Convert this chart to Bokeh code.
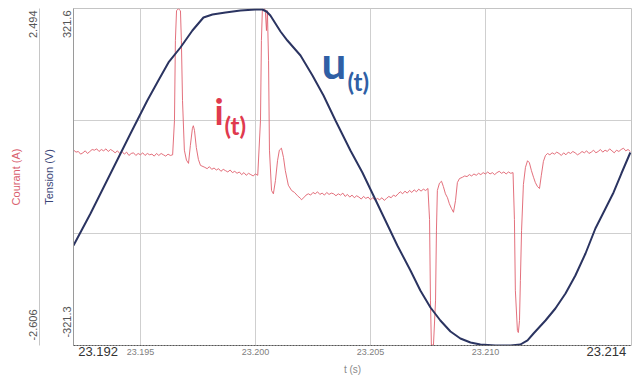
from bokeh.plotting import figure
from bokeh.models import Range1d, LinearAxis, FixedTicker, Grid, Label
from bokeh.embed import file_html
from bokeh.resources import INLINE

# ---------------- data ----------------
t_start, t_end = 23.19209, 23.21635          # visible time window (s)
v_lo, v_hi = -321.3, 321.6                    # Tension axis (V)
i_lo, i_hi = -2.606, 2.494                    # Courant axis (A)

x_ticks = [23.195, 23.200, 23.205, 23.210]
x_tick_labels = ["23.195", "23.200", "23.205", "23.210"]
end_labels = ["23.192", "23.214"]
v_labels = ["321.6", "-321.3"]
i_labels = ["2.494", "-2.606"]

# u(t) : voltage samples
t_u = [23.19209, 23.19283, 23.19370, 23.19457, 23.19530, 23.19578, 23.19622, 23.19674,
       23.19726, 23.19774, 23.19813, 23.19870, 23.19935, 23.20000, 23.20030, 23.20048,
       23.20065, 23.20087, 23.20109, 23.20139, 23.20196, 23.20248, 23.20296, 23.20348,
       23.20413, 23.20465, 23.20513, 23.20565, 23.20617, 23.20674, 23.20717, 23.20761,
       23.20804, 23.20848, 23.20891, 23.20935, 23.20978, 23.21043, 23.21109, 23.21152,
       23.21183, 23.21209, 23.21261, 23.21304, 23.21348, 23.21391, 23.21435, 23.21478,
       23.21522, 23.21557, 23.21591, 23.21630]
u_vals = [-130.5, -69.5, 6.8, 83.1, 146.1, 184.2, 218.6, 247.2,
          279.6, 304.4, 310.2, 314.0, 317.8, 319.7, 319.7, 315.9,
          308.2, 293.0, 277.7, 260.5, 231.9, 193.8, 155.6, 107.9,
          50.7, 8.7, -35.1, -82.8, -130.5, -178.2, -216.4, -248.8,
          -273.6, -294.6, -308.0, -315.6, -319.4, -321.3, -321.3, -319.4,
          -311.7, -298.4, -273.6, -250.7, -222.1, -187.8, -145.8, -98.1,
          -59.9, -29.4, 6.8, 46.9]

# i(t) : current samples, segment by segment
seg_a_t = [23.1921, 23.1922, 23.1923, 23.1924, 23.1925, 23.1926, 23.1927, 23.1928, 23.1929, 23.1930,
           23.1931, 23.1932, 23.1933, 23.1934, 23.1935, 23.1936, 23.1937, 23.1938, 23.1939, 23.1940,
           23.1941, 23.1942, 23.1943, 23.1944, 23.1945, 23.1946, 23.1947, 23.1948, 23.1949, 23.1950,
           23.1951, 23.1952, 23.1953, 23.1954, 23.1955, 23.1956, 23.1957, 23.1958, 23.1959, 23.1960,
           23.1961, 23.1962, 23.1963, 23.1964]
seg_a_i = [0.35, 0.32, 0.33, 0.29, 0.31, 0.34, 0.30, 0.33, 0.36, 0.35,
           0.37, 0.33, 0.36, 0.34, 0.37, 0.33, 0.36, 0.34, 0.31, 0.34,
           0.30, 0.33, 0.29, 0.32, 0.27, 0.30, 0.31, 0.27, 0.30, 0.28,
           0.31, 0.27, 0.30, 0.28, 0.29, 0.26, 0.30, 0.27, 0.30, 0.28,
           0.26, 0.29, 0.27, 0.28]
spk1_t = [23.19648, 23.19652, 23.19657, 23.19665, 23.19674, 23.19678, 23.19683, 23.19691, 23.19700,
          23.19709, 23.19717, 23.19726, 23.19730, 23.19735, 23.19743, 23.19752, 23.19761]
spk1_i = [0.80, 2.01, 2.46, 2.49, 2.46, 2.01, 1.10, 0.35, 0.20,
          0.15, 0.42, 0.68, 0.72, 0.65, 0.39, 0.21, 0.12]
seg_b_t = [23.1978, 23.1979, 23.1980, 23.1981, 23.1982, 23.1983, 23.1984, 23.1985, 23.1986, 23.1987,
           23.1988, 23.1989, 23.1990, 23.1991, 23.1992, 23.1993, 23.1994, 23.1995, 23.1996, 23.1997,
           23.1998, 23.1999, 23.2000, 23.2001]
seg_b_i = [0.09, 0.07, 0.10, 0.06, 0.08, 0.05, 0.07, 0.03, 0.06, 0.04,
           0.02, 0.05, 0.01, 0.03, 0.00, 0.02, -0.02, 0.01, -0.03, 0.00,
           -0.02, -0.04, -0.01, -0.03]
spk2_t = [23.20022, 23.20026, 23.20030, 23.20039, 23.20043, 23.20048, 23.20052, 23.20057, 23.20061,
          23.20070, 23.20078, 23.20087, 23.20096, 23.20104, 23.20113, 23.20122, 23.20130, 23.20143,
          23.20157, 23.20170, 23.20183, 23.20196]
spk2_i = [0.80, 2.01, 2.46, 2.49, 2.46, 2.16, 2.46, 1.71, 0.35,
          -0.26, -0.31, -0.11, 0.19, 0.35, 0.38, 0.24, 0.04, -0.18,
          -0.26, -0.29, -0.34, -0.38]
seg_c_t = [23.2020, 23.2021, 23.2022, 23.2023, 23.2024, 23.2025, 23.2026, 23.2027, 23.2028, 23.2029,
           23.2030, 23.2031, 23.2032, 23.2033, 23.2034, 23.2035, 23.2036, 23.2037, 23.2038, 23.2039,
           23.2040, 23.2041, 23.2042, 23.2043, 23.2044, 23.2045, 23.2046, 23.2047, 23.2048, 23.2049,
           23.2050, 23.2051, 23.2052, 23.2053, 23.2054, 23.2055, 23.2056, 23.2057, 23.2058, 23.2059,
           23.2060, 23.2061, 23.2062, 23.2063, 23.2064, 23.2065, 23.2066, 23.2067, 23.2068, 23.2069,
           23.2070, 23.2071, 23.2072, 23.2073, 23.2074, 23.2075]
seg_c_i = [-0.40, -0.37, -0.33, -0.31, -0.33, -0.29, -0.31, -0.28, -0.32, -0.30,
           -0.33, -0.29, -0.32, -0.30, -0.31, -0.34, -0.31, -0.33, -0.30, -0.35,
           -0.32, -0.36, -0.33, -0.37, -0.34, -0.36, -0.39, -0.35, -0.38, -0.36,
           -0.40, -0.37, -0.41, -0.38, -0.40, -0.37, -0.41, -0.38, -0.35, -0.37,
           -0.33, -0.35, -0.31, -0.28, -0.31, -0.27, -0.30, -0.26, -0.29, -0.25,
           -0.28, -0.24, -0.27, -0.24, -0.26, -0.23]
drp1_t = [23.20757, 23.20761, 23.20765, 23.20774, 23.20783, 23.20787, 23.20791, 23.20800, 23.20809,
          23.20817, 23.20826, 23.20835, 23.20843, 23.20852, 23.20861, 23.20870, 23.20878, 23.20887]
drp1_i = [-0.70, -1.93, -2.60, -2.60, -1.93, -0.86, -0.26, -0.15, -0.12,
          -0.20, -0.31, -0.37, -0.46, -0.53, -0.59, -0.41, -0.14, -0.08]
seg_d_t = [23.2090, 23.2091, 23.2092, 23.2093, 23.2094, 23.2095, 23.2096, 23.2097, 23.2098, 23.2099,
           23.2100, 23.2101, 23.2102, 23.2103, 23.2104, 23.2105, 23.2106, 23.2107, 23.2108, 23.2109,
           23.2110, 23.2111, 23.2112]
seg_d_i = [-0.06, -0.04, -0.05, -0.02, -0.04, -0.01, -0.03, 0.00, -0.02, 0.01,
           -0.01, 0.02, -0.01, 0.01, -0.02, 0.01, 0.03, 0.00, 0.02, -0.01,
           0.02, 0.00, 0.01]
drp2_t = [23.21126, 23.21130, 23.21139, 23.21143, 23.21148, 23.21152, 23.21157, 23.21165, 23.21174,
          23.21183, 23.21191, 23.21200, 23.21209, 23.21217, 23.21226, 23.21235, 23.21243, 23.21252,
          23.21261]
drp2_i = [-0.70, -1.77, -2.38, -2.41, -2.23, -1.62, -0.87, -0.17, 0.09,
          0.19, 0.16, 0.04, -0.06, -0.14, -0.20, -0.23, -0.03, 0.18,
          0.27]
seg_e_t = [23.2127, 23.2128, 23.2129, 23.2130, 23.2131, 23.2132, 23.2133, 23.2134, 23.2135, 23.2136,
           23.2137, 23.2138, 23.2139, 23.2140, 23.2141, 23.2142, 23.2143, 23.2144, 23.2145, 23.2146,
           23.2147, 23.2148, 23.2149, 23.2150, 23.2151, 23.2152, 23.2153, 23.2154, 23.2155, 23.2156,
           23.2157, 23.2158, 23.2159, 23.2160, 23.2161, 23.2162, 23.2163]
seg_e_i = [0.30, 0.28, 0.31, 0.29, 0.32, 0.30, 0.27, 0.31, 0.28, 0.32,
           0.30, 0.33, 0.31, 0.28, 0.30, 0.33, 0.31, 0.34, 0.30, 0.32,
           0.35, 0.31, 0.33, 0.36, 0.32, 0.35, 0.33, 0.37, 0.34, 0.31,
           0.35, 0.33, 0.36, 0.38, 0.34, 0.36, 0.33]

t_i = seg_a_t + spk1_t + seg_b_t + spk2_t + seg_c_t + drp1_t + seg_d_t + drp2_t + seg_e_t
i_vals = seg_a_i + spk1_i + seg_b_i + spk2_i + seg_c_i + drp1_i + seg_d_i + drp2_i + seg_e_i
assert len(t_i) == len(i_vals)
assert len(t_u) == len(u_vals)

# ---------------- figure ----------------
p = figure(width=639, height=378, output_backend="svg", toolbar_location=None,
           x_range=Range1d(t_start, t_end), y_range=Range1d(v_lo, v_hi),
           x_axis_location=None, y_axis_location=None,
           min_border_left=73, min_border_right=8, min_border_top=8, min_border_bottom=33)
p.extra_y_ranges = {"cur": Range1d(i_lo, i_hi)}
p.outline_line_color = "#c4c4c4"
p.background_fill_color = "white"
p.border_fill_color = "white"
p.center = [r for r in p.center if not isinstance(r, Grid)]

p.add_layout(Grid(dimension=0, ticker=FixedTicker(ticks=x_ticks),
                  grid_line_color="#cfcfcf", grid_line_width=1))
third = (v_hi - v_lo) / 3.0
p.add_layout(Grid(dimension=1, ticker=FixedTicker(ticks=[v_lo + third, v_hi - third]),
                  grid_line_color="#cfcfcf", grid_line_width=1))

# inner x axis: the window-end values, written just inside each end
tw = t_end - t_start
x_end_pos = [t_start + 0.044 * tw, t_end - 0.045 * tw]
xend = LinearAxis(ticker=FixedTicker(ticks=x_end_pos),
                  major_label_overrides=dict(zip(x_end_pos, end_labels)),
                  major_label_text_font="Liberation Sans", major_label_text_font_size="13px",
                  major_label_text_color="#333333", major_label_standoff=1,
                  major_tick_in=0, major_tick_out=0, minor_tick_in=0, minor_tick_out=0,
                  axis_line_color="#555555", axis_line_dash="2 1")
p.add_layout(xend, "below")

# outer x axis: grid ticks (labels pulled up into the same band) and the title
xax = LinearAxis(ticker=FixedTicker(ticks=x_ticks), major_label_overrides=dict(zip(x_ticks, x_tick_labels)),
                 axis_label="t (s)", axis_label_text_font="Liberation Sans",
                 axis_label_text_font_size="10px", axis_label_text_font_style="normal",
                 axis_label_text_color="#8a8a8a", axis_label_standoff=6,
                 major_label_text_font="Liberation Sans", major_label_text_font_size="9px",
                 major_label_text_color="#808080", major_label_standoff=-10,
                 major_tick_in=0, major_tick_out=0, minor_tick_in=0, minor_tick_out=0,
                 axis_line_color=None)
p.add_layout(xax, "below")

# y axes (inner: Tension, outer: Courant); range-end values shown just inside each end
vr, ir = v_hi - v_lo, i_hi - i_lo
v_pos = [v_hi - 0.0467 * vr, v_lo + 0.0697 * vr]
i_pos = [i_hi - 0.0467 * ir, i_lo + 0.0608 * ir]
common = dict(major_tick_in=0, major_tick_out=0, minor_tick_in=0, minor_tick_out=0,
              major_label_standoff=2, major_label_orientation="vertical",
              major_label_text_font="Liberation Sans", major_label_text_font_size="11px",
              major_label_text_color="#555555",
              axis_label_text_font="Liberation Sans", axis_label_text_font_size="11px",
              axis_label_text_font_style="normal")
yv = LinearAxis(ticker=FixedTicker(ticks=v_pos), major_label_overrides=dict(zip(v_pos, v_labels)),
                axis_label="Tension (V)", axis_label_standoff=6,
                axis_line_color="#9a9a9a", axis_label_text_color="#3a4577", **common)
p.add_layout(yv, "left")
yi = LinearAxis(y_range_name="cur", ticker=FixedTicker(ticks=i_pos),
                major_label_overrides=dict(zip(i_pos, i_labels)),
                axis_label="Courant (A)", axis_label_standoff=5,
                axis_line_color="#c6c6c6", axis_label_text_color="#d9606e", **common)
p.add_layout(yi, "left")

# traces
p.line(t_i, i_vals, y_range_name="cur", line_color="#e0606e", line_width=1, line_alpha=0.9)
p.line(t_u, u_vals, line_color="#2b3461", line_width=2)

# curve names
name = dict(text_font="Lato", text_font_style="bold", text_baseline="alphabetic", text_align="left")
p.add_layout(Label(x=23.20287, y=218.6, text="u", text_font_size="44px", text_color="#2f5fa5", **name))
p.add_layout(Label(x=23.20400, y=182.3, text="(t)", text_font_size="24px", text_color="#2f5fa5", **name))
p.add_layout(Label(x=23.19822, y=127.0, text="i", text_font_size="36px", text_color="#e03a4e", **name))
p.add_layout(Label(x=23.19865, y=98.4, text="(t)", text_font_size="24px", text_color="#e03a4e", **name))

open("out.html", "w").write(file_html(p, INLINE))
